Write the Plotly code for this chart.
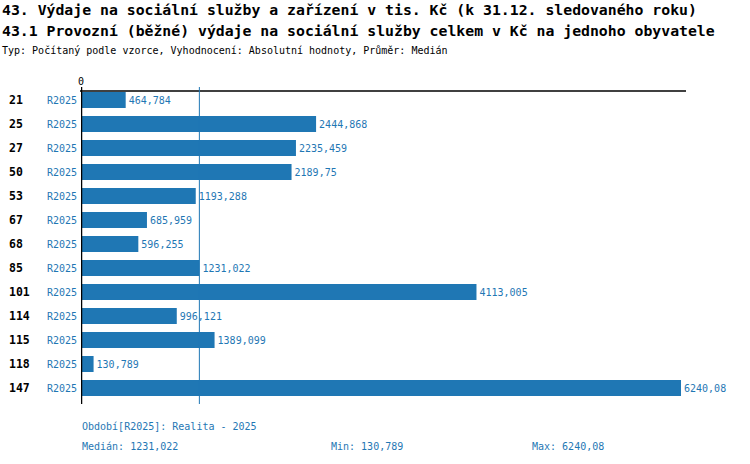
import plotly.graph_objects as go

# data
obce = ["21", "25", "27", "50", "53", "67", "68", "85", "101", "114", "115", "118", "147"]
obdobi = ["R2025"] * len(obce)
hodnoty = [464.784, 2444.868, 2235.459, 2189.75, 1193.288, 685.959, 596.255,
           1231.022, 4113.005, 996.121, 1389.099, 130.789, 6240.08]
median = 1231.022
minimum = 130.789
maximum = 6240.08

title1 = "43. Výdaje na sociální služby a zařízení v tis. Kč (k 31.12. sledovaného roku)"
title2 = "43.1 Provozní (běžné) výdaje na sociální služby celkem v Kč na jednoho obyvatele"
title3 = "Typ: Počítaný podle vzorce, Vyhodnocení: Absolutní hodnoty, Průměr: Medián"


def cz(v):
    return str(v).replace(".", ",")


BLUE = "#1f77b4"
FONT = "DejaVu Sans Mono"

# plot area in pixels (750x464 page)
L, R, T, B = 81, 686, 88, 400


def px(x):
    return (x - L) / (R - L)


def py(y):
    return (B - y) / (B - T)


fig = go.Figure()
fig.add_trace(go.Bar(
    x=hodnoty, y=obce, orientation="h",
    marker=dict(color=BLUE, line=dict(width=0)),
    width=0.667,
    text=[cz(v) for v in hodnoty],
    textposition="outside",
    textfont=dict(family=FONT, size=10, color=BLUE),
    constraintext="none",
    cliponaxis=False,
    hoverinfo="skip",
))

shapes = [
    # top axis line
    dict(type="line", xref="paper", yref="paper", x0=px(80), x1=1, y0=py(91), y1=py(91),
         line=dict(color="black", width=1.5)),
    # zero line
    dict(type="line", xref="x", yref="paper", x0=0, x1=0, y0=py(404), y1=py(87),
         line=dict(color="black", width=2.5)),
    # median line
    dict(type="line", xref="x", yref="paper", x0=median, x1=median, y0=py(404), y1=py(87),
         line=dict(color=BLUE, width=1)),
]

ann = []
for txt, y in [(title1, 9), (title2, 30)]:
    ann.append(dict(text="<b>%s</b>" % txt, xref="paper", yref="paper", x=px(0), y=py(y),
                    xanchor="left", yanchor="middle", showarrow=False,
                    font=dict(family=FONT, size=14.8, color="black")))
ann.append(dict(text=title3, xref="paper", yref="paper", x=px(0), y=py(51),
                xanchor="left", yanchor="middle", showarrow=False,
                font=dict(family=FONT, size=10, color="black")))
# category numbers in bold at the far left (y given as category index)
for i, c in enumerate(obce):
    ann.append(dict(text="<b>%s</b>" % c, xref="paper", yref="y", x=px(7), y=i,
                    xanchor="left", yanchor="middle", showarrow=False,
                    font=dict(family=FONT, size=11.5, color="black")))
footer = [
    ("Období[R2025]: Realita - 2025", 80, 426),
    ("Medián: " + cz(median), 80, 446),
    ("Min: " + cz(minimum), 329, 446),
    ("Max: " + cz(maximum), 530, 446),
]
for txt, x, y in footer:
    ann.append(dict(text=txt, xref="paper", yref="paper", x=px(x), y=py(y),
                    xanchor="left", yanchor="middle", showarrow=False,
                    font=dict(family=FONT, size=10, color=BLUE)))

fig.update_layout(
    width=750, height=464,
    margin=dict(l=L, r=750 - R, t=T, b=464 - B, pad=0),
    paper_bgcolor="white", plot_bgcolor="white",
    showlegend=False,
    font=dict(family=FONT, size=10, color="black"),
    xaxis=dict(side="top", range=[0, 6292], tickvals=[0], ticktext=["0"],
               showgrid=False, zeroline=False, showline=False, ticks="",
               automargin=False,
               tickfont=dict(family=FONT, size=10, color="black")),
    yaxis=dict(type="category", categoryorder="array", categoryarray=obce,
               range=[len(obce) - 0.5, -0.5], autorange=False,
               tickvals=obce, ticktext=obdobi,
               showgrid=False, zeroline=False, showline=False, ticks="",
               automargin=False, ticklabelstandoff=3,
               tickfont=dict(family=FONT, size=10, color=BLUE)),
    shapes=shapes,
    annotations=ann,
)

# the page body has a default 8px margin, drop it so the figure sits at 0,0
fig.write_html("out.html", config={"displayModeBar": False},
               post_script="document.body.style.margin='0';")
